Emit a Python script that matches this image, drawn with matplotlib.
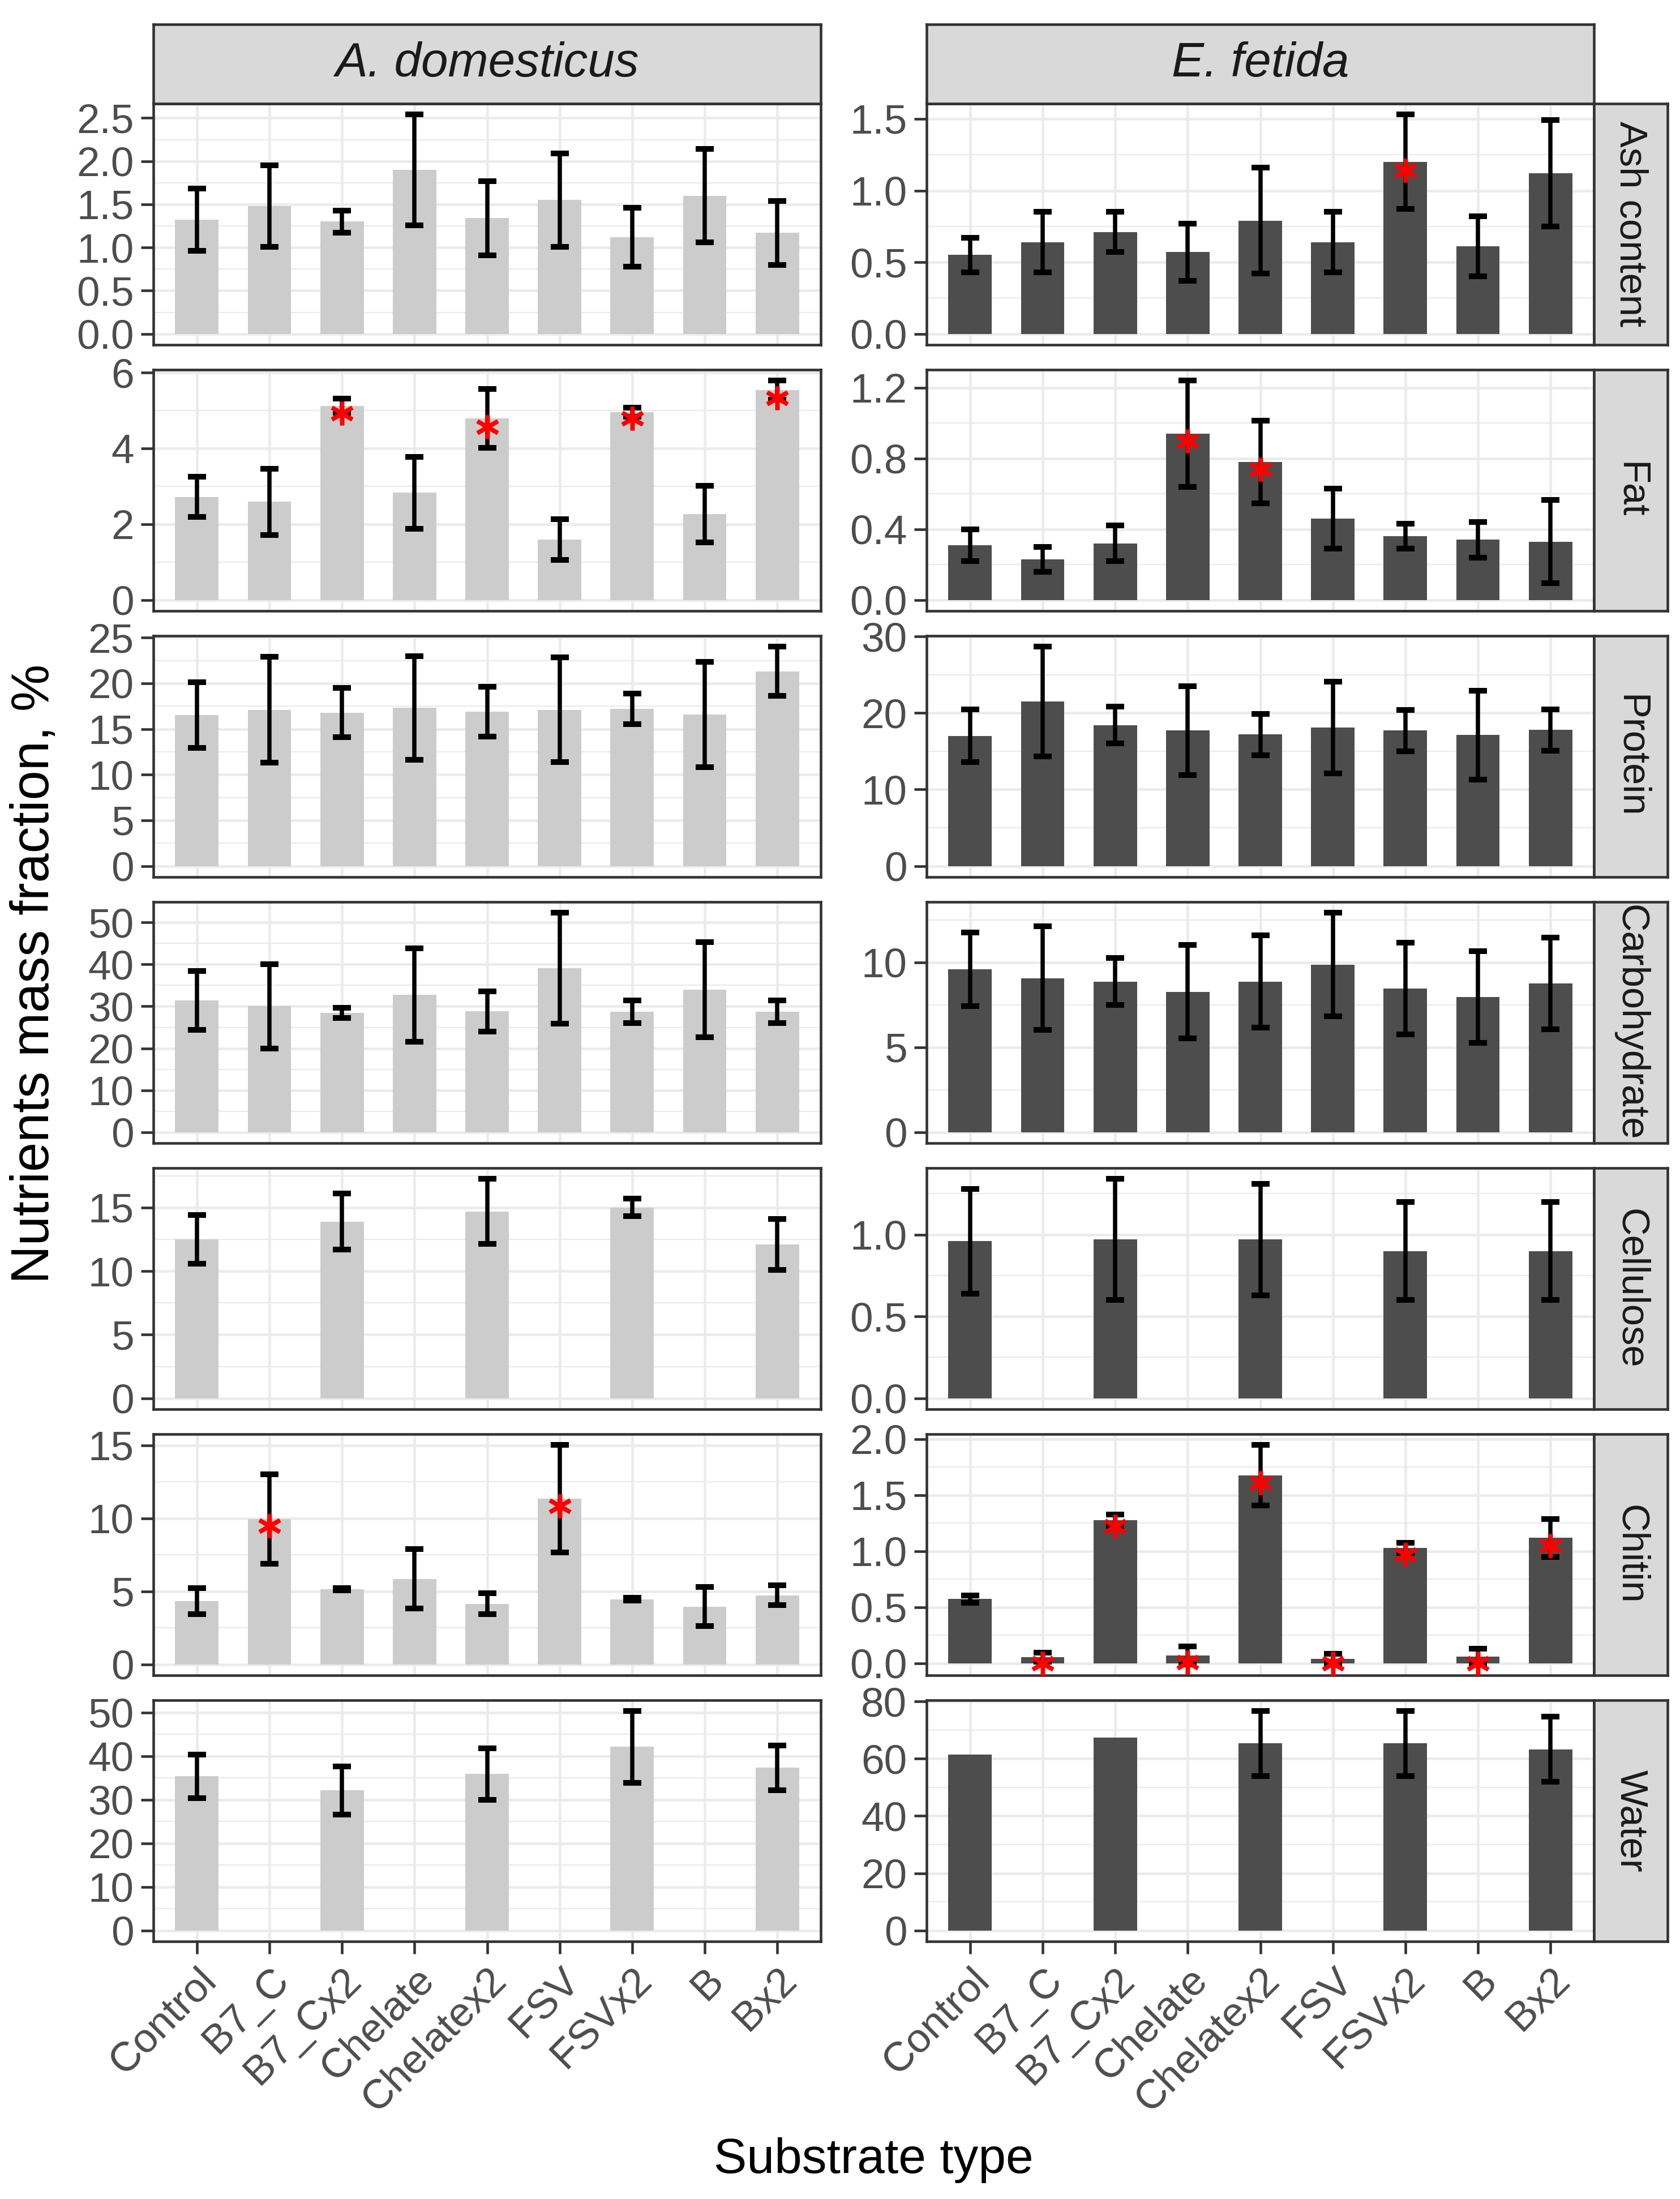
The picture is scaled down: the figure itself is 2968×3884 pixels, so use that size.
import numpy as np
import matplotlib
matplotlib.use("Agg")
import matplotlib.pyplot as plt

plt.rcParams['font.family'] = ['Liberation Sans', 'DejaVu Sans']

nan = np.nan
groups = ["Control", "B7_C", "B7_Cx2", "Chelate", "Chelatex2", "FSV", "FSVx2", "B", "Bx2"]
nutrients = ["Ash content", "Fat", "Protein", "Carbohydrate", "Cellulose", "Chitin", "Water"]
species = ["A. domesticus", "E. fetida"]

# A. domesticus (left column)
ad_ash_mean = [1.32, 1.48, 1.30, 1.90, 1.34, 1.55, 1.12, 1.60, 1.17]
ad_ash_sd = [0.36, 0.47, 0.13, 0.64, 0.43, 0.54, 0.34, 0.54, 0.37]
ad_fat_mean = [2.72, 2.59, 5.13, 2.83, 4.79, 1.59, 4.96, 2.27, 5.54]
ad_fat_sd = [0.53, 0.87, 0.18, 0.95, 0.78, 0.54, 0.12, 0.75, 0.25]
ad_prot_mean = [16.5, 17.1, 16.8, 17.3, 16.9, 17.1, 17.2, 16.6, 21.3]
ad_prot_sd = [3.6, 5.8, 2.7, 5.7, 2.75, 5.75, 1.65, 5.75, 2.7]
ad_carb_mean = [31.4, 30.0, 28.4, 32.7, 28.8, 39.1, 28.7, 34.0, 28.7]
ad_carb_sd = [7.0, 10.1, 1.2, 11.2, 4.8, 13.2, 2.65, 11.35, 2.65]
ad_cell_mean = [12.5, nan, 13.9, nan, 14.7, nan, 15.0, nan, 12.1]
ad_cell_sd = [1.93, nan, 2.2, nan, 2.55, nan, 0.69, nan, 2.02]
ad_chit_mean = [4.34, 9.96, 5.16, 5.86, 4.15, 11.34, 4.45, 3.96, 4.73]
ad_chit_sd = [0.89, 3.07, 0.08, 2.04, 0.72, 3.68, 0.10, 1.35, 0.69]
ad_water_mean = [35.4, nan, 32.1, nan, 35.9, nan, 42.1, nan, 37.3]
ad_water_sd = [5.0, nan, 5.5, nan, 5.9, nan, 8.2, nan, 5.1]

# E. fetida (right column)
ef_ash_mean = [0.55, 0.64, 0.71, 0.57, 0.79, 0.64, 1.20, 0.61, 1.12]
ef_ash_sd = [0.12, 0.21, 0.14, 0.20, 0.37, 0.21, 0.33, 0.21, 0.37]
ef_fat_mean = [0.31, 0.23, 0.32, 0.94, 0.78, 0.46, 0.36, 0.34, 0.33]
ef_fat_sd = [0.09, 0.07, 0.10, 0.30, 0.235, 0.17, 0.07, 0.10, 0.235]
ef_prot_mean = [17.0, 21.5, 18.4, 17.7, 17.2, 18.1, 17.7, 17.1, 17.8]
ef_prot_sd = [3.45, 7.15, 2.4, 5.8, 2.7, 6.0, 2.7, 5.8, 2.7]
ef_carb_mean = [9.6, 9.07, 8.87, 8.27, 8.87, 9.86, 8.45, 7.94, 8.77]
ef_carb_sd = [2.17, 3.05, 1.37, 2.74, 2.73, 3.05, 2.69, 2.7, 2.7]
ef_cell_mean = [0.96, nan, 0.97, nan, 0.97, nan, 0.90, nan, 0.90]
ef_cell_sd = [0.32, nan, 0.37, nan, 0.34, nan, 0.30, nan, 0.30]
ef_chit_mean = [0.573, 0.052, 1.276, 0.07, 1.676, 0.04, 1.027, 0.06, 1.118]
ef_chit_sd = [0.033, 0.04, 0.05, 0.08, 0.27, 0.045, 0.045, 0.07, 0.17]
ef_water_mean = [61.4, nan, 67.3, nan, 65.3, nan, 65.3, nan, 63.3]
ef_water_sd = [nan, nan, nan, nan, 11.3, nan, 11.3, nan, 11.3]

# significance markers (red asterisks)
none9 = [nan] * 9
ad_fat_star = [nan, nan, 4.93, nan, 4.57, nan, 4.79, nan, 5.33]
ad_chit_star = [nan, 9.49, nan, nan, nan, 10.83, nan, nan, nan]
ef_ash_star = [nan, nan, nan, nan, nan, nan, 1.14, nan, nan]
ef_fat_star = [nan, nan, nan, 0.90, 0.74, nan, nan, nan, nan]
ef_chit_star = [nan, 0.0, 1.22, 0.01, 1.61, 0.0, 0.97, 0.0, 1.05]

means = [[ad_ash_mean, ad_fat_mean, ad_prot_mean, ad_carb_mean, ad_cell_mean, ad_chit_mean, ad_water_mean],
         [ef_ash_mean, ef_fat_mean, ef_prot_mean, ef_carb_mean, ef_cell_mean, ef_chit_mean, ef_water_mean]]
sds = [[ad_ash_sd, ad_fat_sd, ad_prot_sd, ad_carb_sd, ad_cell_sd, ad_chit_sd, ad_water_sd],
       [ef_ash_sd, ef_fat_sd, ef_prot_sd, ef_carb_sd, ef_cell_sd, ef_chit_sd, ef_water_sd]]
stars = [[none9, ad_fat_star, none9, none9, none9, ad_chit_star, none9],
         [ef_ash_star, ef_fat_star, none9, none9, none9, ef_chit_star, none9]]

yticks = [[[0, 0.5, 1, 1.5, 2, 2.5], [0, 2, 4, 6], [0, 5, 10, 15, 20, 25], [0, 10, 20, 30, 40, 50],
           [0, 5, 10, 15], [0, 5, 10, 15], [0, 10, 20, 30, 40, 50]],
          [[0, 0.5, 1, 1.5], [0, 0.4, 0.8, 1.2], [0, 10, 20, 30], [0, 5, 10],
           [0, 0.5, 1.0], [0, 0.5, 1, 1.5, 2], [0, 20, 40, 60, 80]]]

bar_colors = ['#CCCCCC', '#4D4D4D']

W, H = 2968, 3884
fig = plt.figure(figsize=(W / 300, H / 300), dpi=300)

left_x = [271, 1637]
pw = 1179
top0, ph, gap = 183, 426, 44
strip_h = 140
rstrip_w = 130

def fbox(x, y_top, w, h):
    return [x / W, 1 - (y_top + h) / H, w / W, h / H]

x = np.arange(len(groups))
for r in range(7):
    for c in range(2):
        ax = fig.add_axes(fbox(left_x[c], top0 + r * (ph + gap), pw, ph))
        m = np.array(means[c][r], float)
        s = np.array(sds[c][r], float)
        st = np.array(stars[c][r], float)
        ax.bar(x, m, width=0.6, color=bar_colors[c], zorder=2)
        ax.errorbar(x, m, yerr=s, fmt='none', ecolor='black', elinewidth=1.8,
                    capsize=3.9, capthick=2.4, zorder=3)
        ax.plot(x, st, ls='none', marker=(6, 2, 0), ms=10, mec='red', mfc='red', mew=1.8, zorder=4)

        lo = np.nanmin(np.concatenate([[0], m - s, st]))
        hi = np.nanmax(np.concatenate([m, m + s, st]))
        pad = 0.05 * (hi - lo)
        ax.set_ylim(lo - pad, hi + pad)
        ax.set_xlim(-0.6, len(groups) - 0.4)

        tk = yticks[c][r]
        dec = 1 if any(t != int(t) for t in tk) else 0
        ax.set_yticks(tk)
        ax.set_yticklabels([f"{t:.{dec}f}" for t in tk])
        step = tk[1] - tk[0]
        minors = [t + step / 2 for t in np.arange(tk[0] - step, tk[-1] + 2 * step, step)]
        minors = [v for v in minors if lo - pad < v < hi + pad]
        ax.set_yticks(minors, minor=True)
        ax.tick_params(axis='y', which='minor', length=0)
        ax.grid(True, which='major', color='#EBEBEB', lw=1.1, zorder=0)
        ax.grid(True, which='minor', axis='y', color='#EBEBEB', lw=0.55, zorder=0)
        ax.set_axisbelow(True)

        ax.set_xticks(x)
        ax.tick_params(axis='both', which='major', length=5.3, width=1.1, color='#333333',
                       labelsize=17.5, labelcolor='#4D4D4D', pad=3)
        if r < 6:
            ax.tick_params(axis='x', length=0, labelbottom=False)
        else:
            ax.set_xticklabels(groups, rotation=45, ha='right', rotation_mode='anchor')
        for sp in ax.spines.values():
            sp.set_color('#333333')
            sp.set_linewidth(1.1)

        if r == 0:
            sa = fig.add_axes(fbox(left_x[c], top0 - strip_h, pw, strip_h))
            sa.set_facecolor('#D9D9D9')
            sa.set_xticks([])
            sa.set_yticks([])
            for sp in sa.spines.values():
                sp.set_color('#333333')
                sp.set_linewidth(1.1)
            sa.text(0.5, 0.5, species[c], ha='center', va='center', fontsize=20.5,
                    style='italic', color='#1A1A1A', transform=sa.transAxes)
        if c == 1:
            sa = fig.add_axes(fbox(left_x[c] + pw, top0 + r * (ph + gap), rstrip_w, ph))
            sa.set_facecolor('#D9D9D9')
            sa.set_xticks([])
            sa.set_yticks([])
            for sp in sa.spines.values():
                sp.set_color('#333333')
                sp.set_linewidth(1.1)
            sa.text(0.5, 0.5, nutrients[r], ha='center', va='center', fontsize=16.5,
                    rotation=-90, color='#1A1A1A', transform=sa.transAxes)

fig.text(62 / W, 1 - 1720 / H, "Nutrients mass fraction, %", rotation=90,
         ha='center', va='center', fontsize=22.5, color='black')
fig.text((left_x[0] + left_x[1] + pw) / 2 / W, 1 - 3815 / H, "Substrate type",
         ha='center', va='center', fontsize=21, color='black')

fig.savefig('out.png', dpi=300, facecolor='white')
